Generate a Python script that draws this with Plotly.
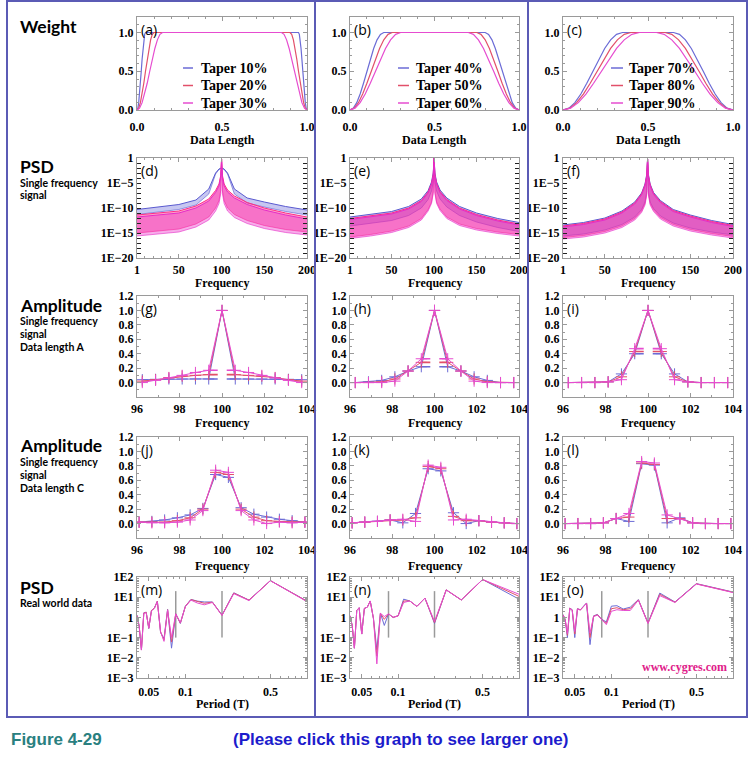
import math
import plotly.graph_objects as go

# ======================= DATA =======================
# Row 1 : taper weight windows (taper percentage of each series)
taper_a = [10, 20, 30]
taper_b = [40, 50, 60]
taper_c = [70, 80, 90]
# shape of the cosine edge (fraction of the edge -> weight)
edge_fraction = [0.0, 0.1, 0.2, 0.3, 0.4, 0.5, 0.6, 0.7, 0.8, 0.9, 1.0]
edge_weight = [0.0, 0.024, 0.095, 0.206, 0.345, 0.5, 0.655, 0.794, 0.905, 0.976, 1.0]

# Row 2 : PSD of a single frequency signal, log10 of upper / lower envelope
psd_freq = [1, 25, 50, 70, 85, 93, 97, 99, 100, 101, 103, 107, 115, 130, 150, 175, 200]
d_blue_top = [-10.3, -9.8, -9.3, -8.4, -6.2, -3.0, -2.2, -2.05, -2.0, -2.05, -2.2, -3.0, -6.2, -8.0, -8.8, -9.7, -10.4]
d_blue_bot = [-11.3, -10.8, -10.3, -9.4, -7.2, -3.2, -2.3, -2.1, -2.05, -2.1, -2.3, -3.2, -7.2, -9.0, -9.8, -10.7, -11.4]
d_red_top = [-11.4, -11.0, -10.6, -9.6, -8.2, -6.5, -5.2, -3.5, -0.2, -3.5, -5.2, -6.4, -7.6, -8.9, -10.0, -11.0, -11.8]
d_red_bot = [-15.0, -14.6, -14.2, -13.2, -11.8, -10.0, -8.5, -6.5, -0.2, -6.5, -8.5, -10.0, -11.3, -12.5, -13.5, -14.3, -14.8]
d_mag_top = [-11.8, -11.4, -11.0, -10.0, -8.6, -6.9, -5.6, -3.8, -0.2, -3.8, -5.6, -6.8, -8.0, -9.3, -10.4, -11.4, -12.2]
d_mag_bot = [-15.6, -15.2, -14.8, -13.8, -12.4, -10.6, -9.1, -7.1, -0.2, -7.1, -9.1, -10.6, -11.9, -13.1, -14.1, -14.9, -15.4]

e_blue_top = [-11.8, -11.3, -10.7, -9.7, -8.2, -6.5, -4.8, -3.0, 0.0, -3.0, -4.8, -6.4, -8.0, -9.7, -11.0, -12.1, -12.9]
e_blue_bot = [-13.6, -13.1, -12.5, -11.5, -10.0, -8.3, -6.6, -4.8, 0.0, -4.8, -6.6, -8.2, -9.8, -11.5, -12.8, -13.9, -14.7]
e_red_top = [-12.1, -11.6, -11.0, -10.0, -8.5, -6.8, -5.1, -3.3, -0.05, -3.3, -5.1, -6.7, -8.3, -10.0, -11.3, -12.4, -13.2]
e_red_bot = [-15.8, -15.3, -14.6, -13.6, -12.1, -10.3, -8.8, -6.8, -0.05, -6.8, -8.8, -10.2, -11.8, -13.2, -14.1, -14.8, -15.3]
e_mag_top = [-12.3, -11.8, -11.2, -10.2, -8.7, -7.0, -5.3, -3.5, -0.05, -3.5, -5.3, -6.9, -8.5, -10.2, -11.5, -12.6, -13.4]
e_mag_bot = [-16.1, -15.6, -14.9, -13.9, -12.4, -10.6, -9.1, -7.1, -0.05, -7.1, -9.1, -10.5, -12.1, -13.5, -14.4, -15.1, -15.6]

f_blue_top = [-13.4, -12.9, -12.0, -10.6, -8.8, -7.0, -5.2, -3.3, -0.2, -3.3, -5.2, -6.9, -8.5, -10.3, -11.4, -12.5, -13.3]
f_blue_bot = [-15.6, -15.2, -14.4, -13.3, -11.8, -10.3, -8.8, -6.8, -0.2, -6.8, -8.8, -10.1, -11.6, -13.0, -14.0, -14.8, -15.4]
f_red_top = [-13.6, -13.1, -12.2, -10.8, -9.0, -7.2, -5.4, -3.5, -0.2, -3.5, -5.4, -7.1, -8.7, -10.5, -11.6, -12.7, -13.5]
f_red_bot = [-15.9, -15.5, -14.7, -13.6, -12.1, -10.6, -9.1, -7.1, -0.2, -7.1, -9.1, -10.4, -11.9, -13.3, -14.3, -15.1, -15.7]
f_mag_top = [-13.8, -13.3, -12.4, -11.0, -9.2, -7.4, -5.6, -3.7, -0.2, -3.7, -5.6, -7.3, -8.9, -10.7, -11.8, -12.9, -13.7]
f_mag_bot = [-16.2, -15.8, -15.0, -13.9, -12.4, -10.9, -9.4, -7.4, -0.2, -7.4, -9.4, -10.7, -12.2, -13.6, -14.6, -15.4, -16.0]

# Row 3 : amplitude, data length A
freq_A = [96.25, 96.875, 97.5, 98.125, 98.75, 99.375, 100.0, 100.625, 101.25, 101.875, 102.5, 103.125, 103.75]
g_blue = [0.04, 0.045, 0.05, 0.05, 0.05, 0.05, 1.0, 0.05, 0.05, 0.05, 0.05, 0.045, 0.04]
g_red = [0.02, 0.04, 0.07, 0.09, 0.10, 0.11, 1.0, 0.11, 0.10, 0.09, 0.07, 0.04, 0.02]
g_mag = [0.0, 0.03, 0.065, 0.10, 0.14, 0.17, 1.0, 0.17, 0.14, 0.10, 0.065, 0.03, 0.0]
h_blue = [0.0, 0.01, 0.03, 0.08, 0.16, 0.22, 1.0, 0.22, 0.16, 0.08, 0.03, 0.0, 0.0]
h_red = [0.0, 0.0, 0.01, 0.05, 0.16, 0.28, 1.0, 0.28, 0.16, 0.05, 0.01, 0.0, 0.0]
h_mag = [0.0, 0.0, 0.0, 0.02, 0.16, 0.33, 1.0, 0.33, 0.16, 0.02, 0.0, 0.0, 0.0]
i_blue = [0.0, 0.0, 0.0, 0.01, 0.12, 0.40, 1.0, 0.40, 0.12, 0.01, 0.0, 0.0, 0.0]
i_red = [0.0, 0.0, 0.0, 0.01, 0.08, 0.43, 1.0, 0.43, 0.08, 0.01, 0.0, 0.0, 0.0]
i_mag = [0.0, 0.0, 0.0, 0.01, 0.04, 0.47, 1.0, 0.47, 0.04, 0.01, 0.0, 0.0, 0.0]

# Row 4 : amplitude, data length C
freq_C = [96.1, 96.7, 97.3, 97.9, 98.5, 99.1, 99.7, 100.3, 100.9, 101.5, 102.1, 102.7, 103.3, 103.9]
j_blue = [0.02, 0.03, 0.05, 0.08, 0.12, 0.21, 0.68, 0.64, 0.22, 0.13, 0.09, 0.06, 0.04, 0.02]
j_red = [0.02, 0.02, 0.02, 0.04, 0.08, 0.20, 0.71, 0.68, 0.20, 0.09, 0.04, 0.03, 0.02, 0.02]
j_mag = [0.02, 0.01, 0.01, 0.02, 0.05, 0.18, 0.74, 0.71, 0.18, 0.05, 0.0, 0.02, 0.01, 0.02]
k_blue = [0.01, 0.02, 0.03, 0.05, 0.01, 0.14, 0.76, 0.73, 0.15, 0.0, 0.04, 0.02, 0.01, 0.0]
k_red = [0.01, 0.02, 0.03, 0.05, 0.05, 0.08, 0.79, 0.76, 0.10, 0.04, 0.04, 0.02, 0.01, 0.0]
k_mag = [0.01, 0.02, 0.03, 0.05, 0.06, 0.03, 0.81, 0.78, 0.05, 0.06, 0.04, 0.02, 0.01, 0.0]
l_blue = [0.0, 0.0, 0.0, 0.01, 0.07, 0.03, 0.83, 0.81, 0.01, 0.08, 0.01, 0.0, 0.0, 0.0]
l_red = [0.0, 0.0, 0.0, 0.01, 0.07, 0.09, 0.84, 0.82, 0.07, 0.07, 0.01, 0.0, 0.0, 0.0]
l_mag = [0.0, 0.0, 0.0, 0.01, 0.07, 0.14, 0.86, 0.84, 0.12, 0.06, 0.01, 0.0, 0.0, 0.0]

# Row 5 : PSD of real world data vs period
period = [1.0, 0.5, 0.3333, 0.25, 0.2, 0.1667, 0.1429, 0.125, 0.1111, 0.1, 0.0909, 0.0833, 0.0769,
          0.0714, 0.0667, 0.0625, 0.0588, 0.0556, 0.0526, 0.05, 0.0476, 0.0455, 0.0435, 0.0417, 0.04]
m_blue = [6.4, 66, 7.2, 16.5, 1.3, 5.8, 5.8, 6.4, 7.8, 3.6, 0.5, 1.5, 0.03, 2.5, 0.09, 0.18, 6.4, 2.9, 2.2, 0.28, 1.8, 1.7, 0.025, 0.35, 1.3]
m_red = [6.3, 66, 7.1, 16, 1.28, 5.7, 5.0, 6.0, 7.6, 3.5, 0.52, 1.5, 0.06, 2.4, 0.075, 0.19, 6.3, 2.9, 2.2, 0.29, 1.8, 1.65, 0.025, 0.36, 1.25]
m_mag = [6.0, 66, 6.8, 15, 1.25, 5.5, 4.2, 5.2, 7.2, 3.4, 0.55, 1.5, 0.1, 2.3, 0.065, 0.2, 6.0, 2.8, 2.1, 0.3, 1.7, 1.6, 0.024, 0.37, 1.15]
n_blue = [8, 75, 7.3, 23, 0.5, 9, 3.5, 6.5, 8.0, 1.2, 1.0, 1.5, 0.4, 1.6, 0.025, 0.9, 6.5, 3.2, 2.8, 0.15, 3.0, 2.2, 0.03, 0.4, 1.2]
n_red = [11, 75, 7.3, 23, 0.55, 9, 3.5, 6.5, 6.5, 1.2, 1.0, 1.5, 0.8, 1.6, 0.012, 0.9, 6.5, 3.2, 2.8, 0.15, 3.0, 2.2, 0.03, 0.4, 1.2]
n_mag = [14, 75, 7.3, 23, 0.63, 9, 3.5, 6.5, 5.5, 1.2, 1.0, 1.5, 1.1, 1.6, 0.005, 0.9, 6.5, 3.2, 2.8, 0.15, 3.0, 2.2, 0.03, 0.4, 1.2]
o_blue = [18, 47, 5.8, 16, 0.53, 7.6, 3.2, 2.6, 3.8, 3.6, 0.6, 0.8, 1.4, 1.2, 0.045, 5.2, 3.5, 2.4, 2.7, 0.1, 2.4, 2.9, 0.1, 0.8, 1.4]
o_red = [17.5, 46, 5.6, 14, 0.52, 7.4, 2.7, 2.4, 3.0, 2.7, 0.5, 0.78, 1.35, 1.15, 0.1, 5.1, 3.4, 2.35, 2.65, 0.15, 2.35, 2.85, 0.13, 0.78, 1.35]
o_mag = [17, 45, 5.5, 12, 0.5, 7.2, 2.2, 2.2, 2.4, 2.0, 0.44, 0.75, 1.3, 1.1, 0.17, 5.0, 3.3, 2.3, 2.6, 0.2, 2.3, 2.8, 0.16, 0.75, 1.3]
marker_periods = [0.0833, 0.2]
marker_span = [0.1, 20]

# ======================= STYLE / LAYOUT =======================
W, H = 750, 775
BLUE, RED, MAG = '#6b6bd6', '#e2506a', '#e64cd0'
PSD_COL = {BLUE: ('#5a5ad0', 'rgba(95,95,215,0.35)'),
           RED: ('#ff2a86', 'rgba(255,30,125,0.42)'),
           MAG: ('#e52cc8', 'rgba(235,40,200,0.38)')}
COLS = [(137, 307), (350, 519), (563, 733)]
ROWS = [(17, 110), (158, 258), (296, 397), (437, 538), (577, 678)]
SERIF = 'Liberation Serif'
SANS = 'Lato'


def px(x):
    return x / W


def py(y):
    return 1 - y / H


fig = go.Figure()


def ax(i):
    return ('x' if i == 0 else 'x%d' % (i + 1)), ('y' if i == 0 else 'y%d' % (i + 1))


def weight_curve(p):
    half = p / 200.0
    xs = [f * half for f in edge_fraction] + [1 - f * half for f in reversed(edge_fraction)]
    ys = edge_weight + list(reversed(edge_weight))
    return xs, ys


# Row 1
for i, tapers in enumerate([taper_a, taper_b, taper_c]):
    xa, ya = ax(i)
    for p, c in zip(tapers, [BLUE, RED, MAG]):
        xs, ys = weight_curve(p)
        fig.add_trace(go.Scatter(x=xs, y=ys, mode='lines', line=dict(color=c, width=1.2),
                                 name='Taper %d%%' % p, xaxis=xa, yaxis=ya, showlegend=False))

# Row 2
psd_sets = [
    [(d_blue_top, d_blue_bot, BLUE), (d_red_top, d_red_bot, RED), (d_mag_top, d_mag_bot, MAG)],
    [(e_blue_top, e_blue_bot, BLUE), (e_red_top, e_red_bot, RED), (e_mag_top, e_mag_bot, MAG)],
    [(f_blue_top, f_blue_bot, BLUE), (f_red_top, f_red_bot, RED), (f_mag_top, f_mag_bot, MAG)],
]
for j, sets in enumerate(psd_sets):
    xa, ya = ax(3 + j)
    for top, bot, c in sets:
        lc, fc = PSD_COL[c]
        fig.add_trace(go.Scatter(x=psd_freq, y=[10 ** v for v in bot], mode='lines',
                                 line=dict(color=lc, width=0.6), xaxis=xa, yaxis=ya,
                                 showlegend=False, hoverinfo='skip'))
        fig.add_trace(go.Scatter(x=psd_freq, y=[10 ** v for v in top], mode='lines', fill='tonexty',
                                 fillcolor=fc, line=dict(color=lc, width=1), xaxis=xa, yaxis=ya,
                                 showlegend=False))

# Rows 3 & 4
amp_sets = [
    (freq_A, [g_blue, g_red, g_mag], True),
    (freq_A, [h_blue, h_red, h_mag], True),
    (freq_A, [i_blue, i_red, i_mag], True),
    (freq_C, [j_blue, j_red, j_mag], False),
    (freq_C, [k_blue, k_red, k_mag], False),
    (freq_C, [l_blue, l_red, l_mag], False),
]
for j, (fx, series, dashed) in enumerate(amp_sets):
    xa, ya = ax(6 + j)
    for s, c in zip(series, [BLUE, RED, MAG]):
        fig.add_trace(go.Scatter(x=fx, y=s, mode='lines+markers', line=dict(color=c, width=1),
                                 marker=dict(symbol='cross-thin', size=8, line=dict(color=c, width=1)),
                                 xaxis=xa, yaxis=ya, showlegend=False))
        if dashed:
            mid = fx.index(100.0)
            fig.add_trace(go.Scatter(x=[fx[mid - 1], fx[mid + 1]], y=[s[mid - 1], s[mid + 1]], mode='lines',
                                     line=dict(color=c, width=1.6, dash='dash'),
                                     xaxis=xa, yaxis=ya, showlegend=False))

# Row 5
real_sets = [[m_blue, m_red, m_mag], [n_blue, n_red, n_mag], [o_blue, o_red, o_mag]]
for j, series in enumerate(real_sets):
    xa, ya = ax(12 + j)
    for pm in marker_periods:
        fig.add_trace(go.Scatter(x=[pm, pm], y=marker_span, mode='lines', line=dict(color='#9a9a9a', width=1.5),
                                 xaxis=xa, yaxis=ya, showlegend=False, hoverinfo='skip'))
    for s, c in zip(series, [BLUE, RED, MAG]):
        fig.add_trace(go.Scatter(x=period, y=s, mode='lines', line=dict(color=c, width=1),
                                 xaxis=xa, yaxis=ya, showlegend=False))

# ---- axes ----
TICKFONT = dict(family=SERIF, size=12, color='black', weight='bold')
AXCOL = '#9a9a9a'
log_minor_row5y = []
for e in range(-3, 2):
    for m in range(2, 10):
        log_minor_row5y.append(m * 10 ** e)
row5_minor_x = [0.04, 0.06, 0.07, 0.08, 0.09, 0.2, 0.3, 0.4, 0.6, 0.7, 0.8, 0.9]

layout = dict(width=W, height=H, margin=dict(l=0, r=0, t=0, b=0, autoexpand=False),
              paper_bgcolor='white', plot_bgcolor='white', showlegend=False)

for i in range(15):
    r, c = divmod(i, 3)
    n = '' if i == 0 else str(i + 1)
    base = dict(showline=True, linecolor=AXCOL, linewidth=1, mirror='allticks', ticks='inside',
                ticklen=4, tickcolor=AXCOL, showgrid=False, zeroline=False, tickfont=TICKFONT,
                fixedrange=True, automargin=False)
    xa = dict(base, domain=[px(COLS[c][0]), px(COLS[c][1])], anchor='y' + n)
    ya = dict(base, domain=[py(ROWS[r][1]), py(ROWS[r][0])], anchor='x' + n)
    minor = dict(ticks='inside', ticklen=2, tickcolor=AXCOL, showgrid=False)
    if r == 0:
        xa.update(range=[0, 1], tickmode='array', tickvals=[0, 0.5, 1], ticktext=['0.0', '0.5', '1.0'],
                  minor=dict(minor, dtick=0.1), ticklabelstandoff=6)
        ya.update(range=[0, 1.2], tickmode='array', tickvals=[0, 0.5, 1], ticktext=['0.0', '0.5', '1.0'],
                  minor=dict(minor, dtick=0.1))
    elif r == 1:
        xa.update(range=[1, 200], tickmode='array', tickvals=[1, 50, 100, 150, 200],
                  minor=dict(minor, dtick=10, tick0=0), ticklabelstandoff=1)
        tv = [10.0 ** (-k) for k in range(0, 21)]
        tt = [('1' if k == 0 else '1E\u2212%d' % k) if k % 5 == 0 else '' for k in range(0, 21)]
        ya.update(type='log', range=[-20, 0], tickmode='array', tickvals=tv, ticktext=tt,
                  tickcolor='#222', ticklen=4)
    elif r in (2, 3):
        xa.update(range=[96, 104], tickmode='array', tickvals=[96, 98, 100, 102, 104],
                  minor=dict(minor, dtick=1, tick0=0), ticklabelstandoff=1)
        ya.update(range=[-0.2, 1.2], tickmode='array', tickvals=[0, 0.2, 0.4, 0.6, 0.8, 1.0, 1.2],
                  ticktext=['0.0', '0.2', '0.4', '0.6', '0.8', '1.0', '1.2'], minor=dict(minor, dtick=0.1, tick0=0))
    else:
        xa.update(type='log', range=[math.log10(0.04), 0], tickmode='array', tickvals=[0.05, 0.1, 0.5],
                  ticktext=['0.05', '0.1', '0.5'], minor=dict(minor, tickmode='array', tickvals=row5_minor_x),
                  ticklabelstandoff=3)
        ya.update(type='log', range=[-3, 2], tickmode='array', tickvals=[1e-3, 1e-2, 1e-1, 1, 10, 100],
                  ticktext=['1E\u22123', '1E\u22122', '1E\u22121', '1', '1E1', '1E2'],
                  minor=dict(minor, tickmode='array', tickvals=log_minor_row5y))
    layout['xaxis' + n] = xa
    layout['yaxis' + n] = ya

fig.update_layout(**layout)

# ---- annotations ----
ann = []
shapes = []
letters = 'abcdefghijklmno'
for i in range(15):
    r, c = divmod(i, 3)
    ann.append(dict(x=px(COLS[c][0] + 2), y=py(ROWS[r][0] + 1), xref='paper', yref='paper',
                    xanchor='left', yanchor='top', showarrow=False, text='(%s)' % letters[i],
                    font=dict(family='Open Sans', size=14, color='black')))
xtitles = ['Data Length', 'Frequency', 'Frequency', 'Frequency', 'Period (T)']
xtitle_y = [140, 283, 423, 566, 704]
for r in range(5):
    for c in range(3):
        ann.append(dict(x=px((COLS[c][0] + COLS[c][1]) / 2), y=py(xtitle_y[r]), xref='paper', yref='paper',
                        xanchor='center', yanchor='middle', showarrow=False, text=xtitles[r], borderpad=0,
                        font=dict(family=SERIF, size=12, color='black', weight='bold')))

# legend entries (line sample + label) for the weight panels
LEG_LINE_X = [(183, 193), (398, 409), (611, 623)]
LEG_TEXT_X = [200, 415, 628]
LEG_ROW_Y = [68, 85.5, 103]
for k, tapers in enumerate([taper_a, taper_b, taper_c]):
    for p, c, yy in zip(tapers, [BLUE, RED, MAG], LEG_ROW_Y):
        shapes.append(dict(type='line', xref='paper', yref='paper', x0=px(LEG_LINE_X[k][0]),
                           x1=px(LEG_LINE_X[k][1]), y0=py(yy), y1=py(yy), line=dict(color=c, width=1.5)))
        ann.append(dict(x=px(LEG_TEXT_X[k]), y=py(yy), xref='paper', yref='paper', xanchor='left',
                        yanchor='middle', showarrow=False, text='Taper %d%%' % p, borderpad=0,
                        font=dict(family=SERIF, size=14, color='black', weight='bold')))

heads = [
    ('Weight', 26, []),
    ('PSD', 166, [('Single frequency', 182.5), ('signal', 195)]),
    ('Amplitude', 305, [('Single frequency', 321), ('signal', 334), ('Data length A', 347)]),
    ('Amplitude', 446, [('Single frequency', 462), ('signal', 475), ('Data length C', 488)]),
    ('PSD', 587, [('Real world data', 603)]),
]
for title, ty, subs in heads:
    ann.append(dict(x=px(19), y=py(ty), xref='paper', yref='paper', xanchor='left', yanchor='middle',
                    showarrow=False, text=title, borderpad=0,
                    font=dict(family=SANS, size=17.5, color='black', weight='bold')))
    for s, sy in subs:
        ann.append(dict(x=px(19), y=py(sy), xref='paper', yref='paper', xanchor='left', yanchor='middle',
                        showarrow=False, text=s, borderpad=0,
                        font=dict(family=SANS, size=10.5, color='black', weight='bold')))

ann.append(dict(x=px(729), y=py(667), xref='paper', yref='paper', xanchor='right', yanchor='middle',
                showarrow=False, text='www.cygres.com',
                font=dict(family=SERIF, size=12, color='#e0208a', weight='bold')))
ann.append(dict(x=px(9), y=py(739), xref='paper', yref='paper', xanchor='left', yanchor='middle',
                showarrow=False, text='Figure 4-29',
                font=dict(family='Liberation Sans', size=17, color='#2a8080', weight='bold')))
ann.append(dict(x=px(401), y=py(739), xref='paper', yref='paper', xanchor='center', yanchor='middle',
                showarrow=False, text='(Please click this graph to see larger one)',
                font=dict(family='Liberation Sans', size=17, color='#1c1ccc', weight='bold')))

# ---- frame ----
BORDER = '#5b5bb5'
shapes += [
    dict(type='rect', xref='paper', yref='paper', x0=px(7), x1=px(747), y0=py(717), y1=py(1),
         line=dict(color=BORDER, width=2)),
    dict(type='line', xref='paper', yref='paper', x0=px(315), x1=px(315), y0=py(717), y1=py(1),
         line=dict(color=BORDER, width=2)),
    dict(type='line', xref='paper', yref='paper', x0=px(528), x1=px(528), y0=py(717), y1=py(1),
         line=dict(color=BORDER, width=2)),
]
fig.update_layout(annotations=ann, shapes=shapes)

fig.write_html('out.html', config={'displayModeBar': False},
               post_script="document.body.style.margin='0px';")
